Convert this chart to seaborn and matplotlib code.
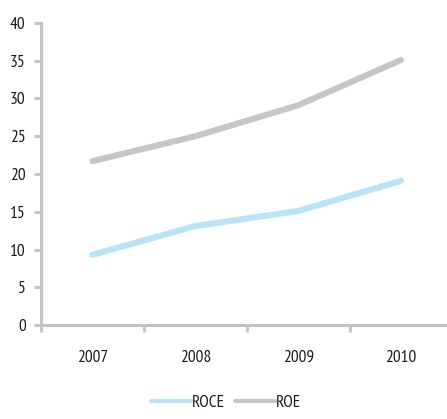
import matplotlib
matplotlib.use("Agg")
import matplotlib.pyplot as plt
from matplotlib.lines import Line2D
import seaborn as sns
import pandas as pd
import numpy as np

years = ["2007", "2008", "2009", "2010"]
roce = [9.3, 13.1, 15.1, 19.1]
roe = [21.7, 25.0, 29.1, 35.1]

sns.set_theme(style="white")
plt.rcParams["font.family"] = ["PT Sans Narrow", "DejaVu Sans"]
plt.rcParams["font.weight"] = "normal"

df = pd.DataFrame({
    "year": years * 2,
    "value": roce + roe,
    "series": ["ROCE"] * len(years) + ["ROE"] * len(years),
})
df["x"] = list(range(len(years))) * 2

W, H = 447, 419
fig = plt.figure(figsize=(W / 100, H / 100), dpi=100)
ax = fig.add_axes([41 / W, (H - 325) / H, (W - 41) / W + 0.012, (325 - 23) / H])

palette = {"ROCE": "#b9e4f8", "ROE": "#c6c6c8"}
sns.lineplot(data=df, x="x", y="value", hue="series", palette=palette,
             linewidth=4.4, ax=ax, legend=False, solid_capstyle="round")

axis_col = "#c3c3c6"
ax.set_xlim(-0.5, 3.5)
ax.set_ylim(0, 40)
ax.set_yticks(np.arange(0, 41, 5))
ax.set_xticks(range(len(years)))
ax.set_xticklabels(years)
ax.set_xticks(np.arange(-0.5, 3.6, 1), minor=True)
ax.set_xlabel("")
ax.set_ylabel("")

for s in ["top", "right"]:
    ax.spines[s].set_visible(False)
for s in ["left", "bottom"]:
    ax.spines[s].set_color(axis_col)
    ax.spines[s].set_linewidth(2.2)

ax.tick_params(axis="y", which="major", length=5, width=2, color=axis_col,
               labelsize=12.5, pad=6, left=True, labelcolor="#1a1a1a")
ax.tick_params(axis="x", which="major", length=0, labelsize=12.5, pad=18,
               labelcolor="#1a1a1a")
ax.tick_params(axis="x", which="minor", length=5, width=2, color=axis_col,
               bottom=True)

handles = [Line2D([], [], color=palette["ROCE"], lw=3.0),
           Line2D([], [], color=palette["ROE"], lw=3.0)]
fig.legend(handles, ["ROCE", "ROE"], loc="lower center", bbox_to_anchor=(0.506, -0.005),
           ncol=2, frameon=False, fontsize=12.5, handlelength=2.3,
           handletextpad=0.05, columnspacing=0.6, labelcolor="#1a1a1a",
           borderpad=0.1)

fig.savefig("out.png", dpi=100)
